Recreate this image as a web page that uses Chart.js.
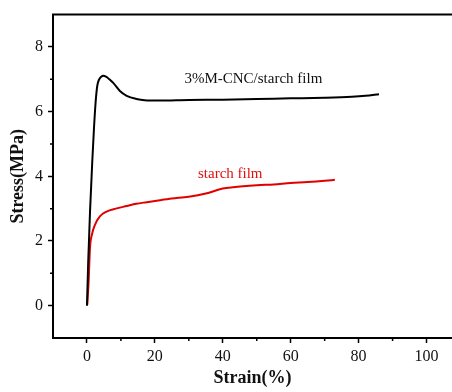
<!DOCTYPE html>
<html>
<head>
<meta charset="utf-8">
<script src="https://cdn.jsdelivr.net/npm/chart.js@4"></script>
<style>
body{margin:0;background:#fff;}
#wrap{width:452px;height:392px;}
</style>
</head>
<body>
<div id="wrap"><canvas id="stressChart" width="452" height="392"></canvas></div>
<script>
// strain (%) / stress (MPa)
const cncStrain = [0,0.38,0.9,1.56,2.06,2.55,3.04,3.6,4.2,4.8,5.6,6.6,7.8,9.7,11.7,14.6,17,21,30,40,50,60,70,78,82,86];
const cncStress = [0,1.38,2.9,4.45,5.47,6.29,6.8,7.0,7.08,7.11,7.08,7.0,6.88,6.64,6.49,6.39,6.35,6.34,6.36,6.37,6.39,6.41,6.43,6.46,6.49,6.54];

const starchStrain = [0.1,0.5,0.9,1.47,2.36,3.8,5.8,8.5,11.7,14.5,17.6,21.5,25,30,35,40,43,50,55,60,65,70,73];
const starchStress = [0.03,0.78,1.8,2.2,2.5,2.76,2.91,3.0,3.08,3.15,3.2,3.26,3.31,3.37,3.47,3.62,3.66,3.72,3.75,3.79,3.82,3.86,3.89];

const xTicks = [0,20,40,60,80,100];
const xMinor = [10,30,50,70,90];
const yTicks = [0,2,4,6,8];
const yMinor = [1,3,5,7];

const seriesNames = ["3%M-CNC/starch film","starch film"];

function toPoints(xs,ys){
    return xs.map((x,i)=>({x:x,y:ys[i]}));
}

const FONT = "'Liberation Serif','Times New Roman',serif";

// minor ticks, top frame line and the two curve labels
const extras = {
    id:"extras",
    afterDraw(c){
        const ctx = c.ctx;
        const xs = c.scales.x, ys = c.scales.y;
        const area = c.chartArea;
        ctx.save();
        ctx.strokeStyle = "#000";
        ctx.lineWidth = 1.5;
        ctx.beginPath();
        xMinor.forEach(v=>{
            const px = xs.getPixelForValue(v);
            ctx.moveTo(px,area.bottom);
            ctx.lineTo(px,area.bottom+3);
        });
        yMinor.forEach(v=>{
            const py = ys.getPixelForValue(v);
            ctx.moveTo(area.left,py);
            ctx.lineTo(area.left-3,py);
        });
        ctx.stroke();
        ctx.lineWidth = 2;
        ctx.beginPath();
        ctx.moveTo(area.left-1,area.top);
        ctx.lineTo(area.right,area.top);
        ctx.stroke();

        ctx.font = "15px " + FONT;
        ctx.textAlign = "center";
        ctx.textBaseline = "middle";
        ctx.fillStyle = "#111";
        ctx.fillText(seriesNames[0], xs.getPixelForValue(49), ys.getPixelForValue(7.0));
        ctx.fillStyle = "#e01010";
        ctx.fillText(seriesNames[1], xs.getPixelForValue(42.2), ys.getPixelForValue(4.08));
        ctx.restore();
    }
};

new Chart(document.getElementById("stressChart"),{
    type:"scatter",
    data:{
        datasets:[{
            label:seriesNames[0],
            data:toPoints(cncStrain,cncStress),
            showLine:true,
            borderColor:"#000",
            borderWidth:2,
            pointRadius:0,
            cubicInterpolationMode:"monotone"
        },{
            label:seriesNames[1],
            data:toPoints(starchStrain,starchStress),
            showLine:true,
            borderColor:"#e00000",
            borderWidth:2,
            pointRadius:0,
            cubicInterpolationMode:"monotone"
        }]
    },
    options:{
        responsive:false,
        animation:false,
        layout:{padding:{top:11,right:0,left:0,bottom:0}},
        plugins:{
            legend:{display:false},
            tooltip:{enabled:false}
        },
        scales:{
            x:{
                type:"linear",
                min:-10,
                max:107.5,
                afterBuildTicks:s=>{ s.ticks = xTicks.map(v=>({value:v})); },
                afterFit:s=>{ s.height = 54; },
                border:{display:true,color:"#000",width:2},
                grid:{display:true,drawOnChartArea:false,drawTicks:true,tickLength:5,tickColor:"#000",tickWidth:1.5},
                ticks:{color:"#111",padding:4,maxRotation:0,font:{family:FONT,size:16}},
                title:{display:true,text:"Strain(%)",color:"#111",padding:{top:0,bottom:3},font:{family:FONT,size:18,weight:"bold"}}
            },
            y:{
                min:-1,
                max:9,
                afterBuildTicks:s=>{ s.ticks = yTicks.map(v=>({value:v})); },
                afterFit:s=>{ s.width = 53; },
                border:{display:true,color:"#000",width:2},
                grid:{display:true,drawOnChartArea:false,drawTicks:true,tickLength:5,tickColor:"#000",tickWidth:1.5},
                ticks:{color:"#111",padding:5,font:{family:FONT,size:16}},
                title:{display:true,text:"Stress(MPa)",color:"#111",padding:{top:8,bottom:0},font:{family:FONT,size:18,weight:"bold"}}
            }
        }
    },
    plugins:[extras]
});
</script>
</body>
</html>
